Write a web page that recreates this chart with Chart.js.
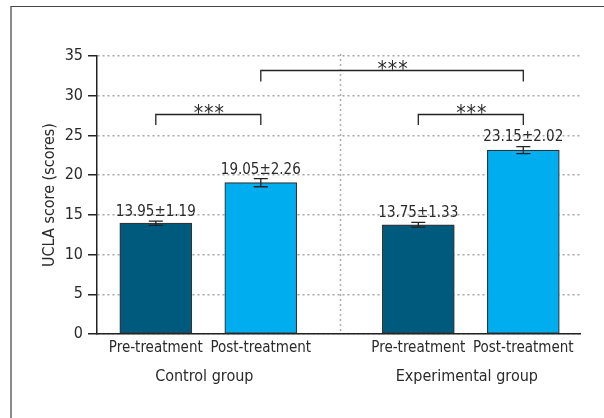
<!DOCTYPE html>
<html>
<head>
<meta charset="utf-8">
<script src="https://cdn.jsdelivr.net/npm/chart.js@4/dist/chart.umd.min.js"></script>
<style>
  html, body { margin: 0; padding: 0; background: #fff; overflow: hidden; }
  #frame { position: absolute; left: 10px; top: 6px; width: 700px; height: 500px;
           border-left: 2px solid #8a8a8a; border-top: 1px solid #444; }
  #my_Chart { position: absolute; left: 0; top: 0; }
</style>
</head>
<body>
<div id="frame"></div>
<canvas id="my_Chart" width="604" height="418"></canvas>
<script>
// Chart data
var categories = ['Pre-treatment', 'Post-treatment', 'Pre-treatment', 'Post-treatment'];
var xPositions = [0, 1, 2.5, 3.5];
var groups = ['Control group', 'Experimental group'];
var groupPositions = [0.5, 3];
var means = [13.95, 19.05, 13.75, 23.15];
var sds = [1.19, 2.26, 1.33, 2.02];
var errors = [0.27, 0.51, 0.30, 0.45];   // drawn error bar half-length
var barColors = ['#005a7e', '#00adee', '#005a7e', '#00adee'];
var bracketPairs = [[0, 1], [2, 3], [1, 3]];
var bracketLevels = [27.7, 27.7, 33.3];
var bracketLegs = [26.3, 26.3, 31.8];
var bracketLabels = ['***', '***', '***'];

var FONT = '"Liberation Sans Narrow", "DejaVu Sans Condensed", sans-serif';
var TEXT = '#2a2a2a';

// Draw extras: separator, error bars, value labels, brackets, group labels
var extras = {
    id: 'extras',
    beforeDatasetsDraw: function (chart) {
        var ctx = chart.ctx, x = chart.scales.x, a = chart.chartArea;
        var sx = x.getPixelForValue((xPositions[1] + xPositions[2]) / 2);
        ctx.save();
        ctx.strokeStyle = '#aaa';
        ctx.lineWidth = 1.5;
        ctx.setLineDash([2, 3]);
        ctx.beginPath();
        ctx.moveTo(Math.round(sx) + 0.5, a.top - 2);
        ctx.lineTo(Math.round(sx) + 0.5, a.bottom);
        ctx.stroke();
        ctx.restore();
    },
    afterDatasetsDraw: function (chart) {
        var ctx = chart.ctx, x = chart.scales.x, y = chart.scales.y;
        ctx.save();
        ctx.strokeStyle = '#222';
        ctx.fillStyle = TEXT;
        ctx.lineWidth = 1.3;
        // error bars + value labels
        for (var i = 0; i < means.length; i++) {
            var cx = x.getPixelForValue(xPositions[i]);
            var top = y.getPixelForValue(means[i] + errors[i]);
            var bot = y.getPixelForValue(means[i] - errors[i]);
            ctx.beginPath();
            ctx.moveTo(cx, top); ctx.lineTo(cx, bot);
            ctx.moveTo(cx - 7, top); ctx.lineTo(cx + 7, top);
            ctx.moveTo(cx - 7, bot); ctx.lineTo(cx + 7, bot);
            ctx.stroke();
            ctx.font = '15px ' + FONT;
            ctx.textAlign = 'center';
            ctx.textBaseline = 'middle';
            ctx.fillText(means[i].toFixed(2) + '\u00b1' + sds[i].toFixed(2), cx, top - 9);
        }
        // significance brackets
        for (var j = 0; j < bracketPairs.length; j++) {
            var x1 = x.getPixelForValue(xPositions[bracketPairs[j][0]]);
            var x2 = x.getPixelForValue(xPositions[bracketPairs[j][1]]);
            var yl = Math.round(y.getPixelForValue(bracketLevels[j])) + 0.5;
            var yg = y.getPixelForValue(bracketLegs[j]);
            ctx.beginPath();
            ctx.moveTo(x1, yg); ctx.lineTo(x1, yl); ctx.lineTo(x2, yl); ctx.lineTo(x2, yg);
            ctx.stroke();
            ctx.font = '21px ' + FONT;
            ctx.letterSpacing = '1px';
            ctx.textBaseline = 'alphabetic';
            ctx.fillText(bracketLabels[j], (x1 + x2) / 2 + 1, yl + 5);
            ctx.letterSpacing = '0px';
        }
        // group labels
        ctx.font = '16px ' + FONT;
        ctx.textBaseline = 'middle';
        for (var k = 0; k < groups.length; k++) {
            ctx.fillText(groups[k], x.getPixelForValue(groupPositions[k]) - 4, 377);
        }
        ctx.restore();
    }
};

var ctx = document.getElementById('my_Chart').getContext('2d');
var myChart = new Chart(ctx, {
    type: 'bar',
    data: {
        datasets: [{
            data: xPositions.map(function (v, i) { return { x: v, y: means[i] }; }),
            backgroundColor: barColors,
            borderColor: '#333',
            borderWidth: 1.2,
            borderSkipped: false,
            barThickness: 72
        }]
    },
    options: {
        responsive: false,
        animation: false,
        devicePixelRatio: 1,
        layout: { padding: { top: 56, right: 24, left: 0, bottom: 0 } },
        plugins: { legend: { display: false }, tooltip: { enabled: false } },
        scales: {
            x: {
                type: 'linear',
                offset: false,
                min: -0.56,
                max: 4.04,
                afterBuildTicks: function (axis) {
                    axis.ticks = xPositions.map(function (v) { return { value: v }; });
                },
                afterFit: function (axis) { axis.height = 84; },
                grid: { display: false, drawTicks: false, offset: false },
                border: { display: true, color: '#222', width: 1.5 },
                ticks: {
                    autoSkip: false,
                    maxRotation: 0,
                    padding: 5,
                    color: TEXT,
                    font: { family: FONT, size: 15 },
                    callback: function (v, i) { return categories[i]; }
                }
            },
            y: {
                min: 0,
                max: 35,
                afterFit: function (axis) { axis.width = 97; },
                ticks: {
                    stepSize: 5,
                    padding: 5,
                    color: TEXT,
                    font: { family: FONT, size: 16 }
                },
                grid: {
                    color: '#a8a8a8',
                    lineWidth: 1.5,
                    tickLength: 9,
                    tickColor: '#222',
                    tickWidth: 1.5
                },
                border: { display: true, color: '#222', width: 1.5, dash: [2, 3] },
                title: {
                    display: true,
                    text: 'UCLA score (scores)',
                    color: TEXT,
                    font: { family: FONT, size: 16 },
                    padding: { top: 40, bottom: 0 }
                }
            }
        }
    },
    plugins: [extras]
});
</script>
</body>
</html>
